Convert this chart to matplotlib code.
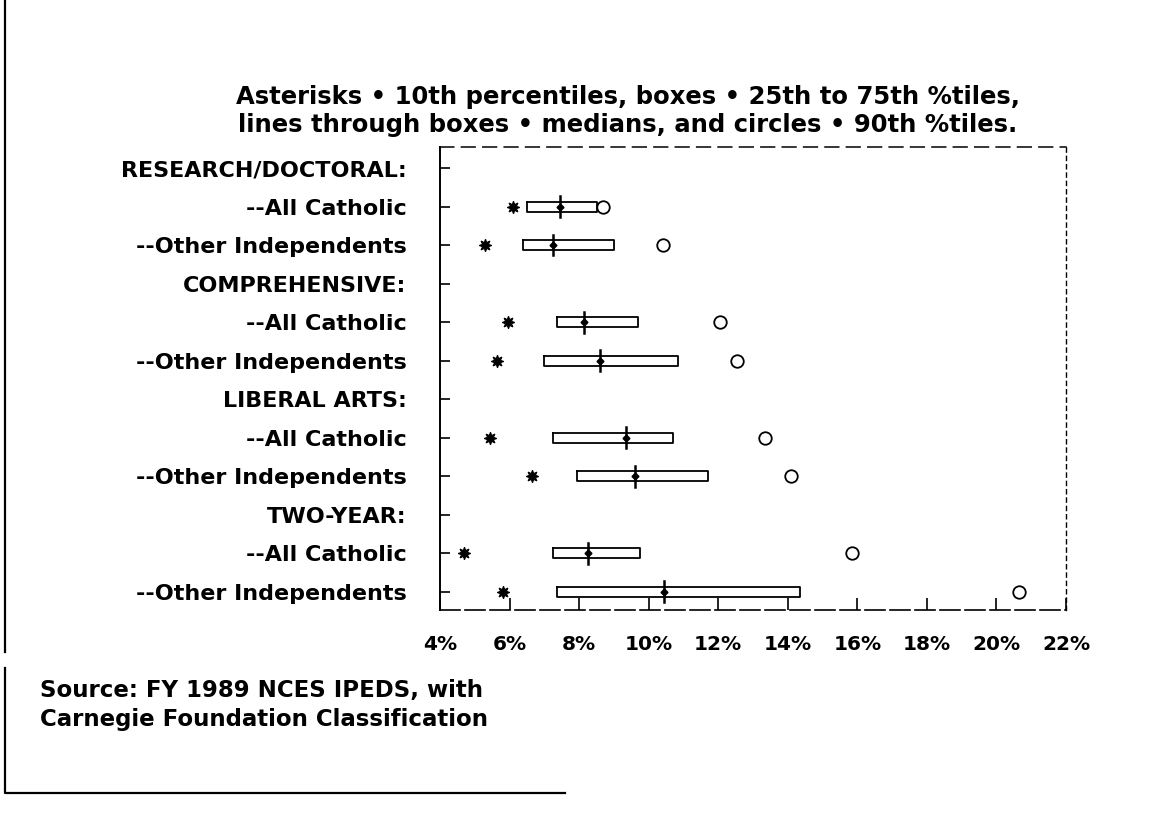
import numpy as np
import matplotlib.pyplot as plt
from matplotlib.lines import Line2D

# Row labels, top to bottom (headers have no data)
row_labels = [
    "RESEARCH/DOCTORAL:", "--All Catholic", "--Other Independents",
    "COMPREHENSIVE:", "--All Catholic", "--Other Independents",
    "LIBERAL ARTS:", "--All Catholic", "--Other Independents",
    "TWO-YEAR:", "--All Catholic", "--Other Independents",
]
# rows that carry a box
data_rows = [1, 2, 4, 5, 7, 8, 10, 11]

# percentiles in %
p10 = [6.1, 5.3, 5.95, 5.65, 5.45, 6.65, 4.7, 5.8]
p25 = [6.5, 6.4, 7.35, 7.0, 7.25, 7.95, 7.25, 7.35]
p50 = [7.45, 7.25, 8.15, 8.6, 9.35, 9.6, 8.25, 10.45]
p75 = [8.5, 9.0, 9.7, 10.85, 10.7, 11.7, 9.75, 14.35]
p90 = [8.7, 10.4, 12.05, 12.55, 13.35, 14.1, 15.85, 20.65]

x_ticks = [4, 6, 8, 10, 12, 14, 16, 18, 20, 22]

title = ("Asterisks \u2022 10th percentiles, boxes \u2022 25th to 75th %tiles,\n"
         "lines through boxes \u2022 medians, and circles \u2022 90th %tiles.")
source = "Source: FY 1989 NCES IPEDS, with\nCarnegie Foundation Classification"

W, H = 1155, 813
fig = plt.figure(figsize=(W / 100, H / 100), dpi=100)
ax = fig.add_axes([440 / W, 1 - 610 / H, (1066 - 440) / W, (610 - 147) / H])

box_h = 0.13
med_h = 0.27
for i, r in enumerate(data_rows):
    # box 25th-75th
    ax.plot([p25[i], p75[i], p75[i], p25[i], p25[i]],
            [r - box_h, r - box_h, r + box_h, r + box_h, r - box_h],
            color="black", lw=1.3)
    # median
    ax.plot([p50[i], p50[i]], [r - med_h, r + med_h], color="black", lw=1.8)
    ax.plot([p50[i]], [r], marker="D", ms=3.5, color="black")
    # 10th percentile
    ax.plot([p10[i]], [r], marker=(8, 1, 0), ms=9, color="black", mew=0.8)
    # 90th percentile
    ax.plot([p90[i]], [r], marker="o", ms=9, mfc="white", mec="black", mew=1.3)

ax.set_xlim(4, 22)
ax.set_ylim(11.47, -0.545)
ax.set_yticks(range(len(row_labels)))
ax.set_yticklabels(row_labels, fontsize=16, fontweight="bold", family="DejaVu Sans")
ax.set_xticks(x_ticks)
ax.set_xticklabels([f"{t}%" for t in x_ticks], fontsize=14.5, fontweight="bold",
                   family="DejaVu Sans")
ax.tick_params(axis="y", direction="in", length=7, width=1.2, pad=24)
ax.tick_params(axis="x", direction="in", length=9, width=1.2, pad=18)

ax.spines["left"].set_linewidth(1.4)
ax.spines["top"].set_linestyle((0, (9, 5)))
ax.spines["top"].set_linewidth(1.1)
ax.spines["bottom"].set_linestyle((0, (12, 3)))
ax.spines["bottom"].set_linewidth(1.2)
ax.spines["right"].set_linestyle((0, (3, 3)))
ax.spines["right"].set_linewidth(1.0)

fig.text(628 / W, 1 - 111 / H, title, ha="center", va="center", fontsize=17.5,
         fontweight="bold", family="DejaVu Sans", linespacing=1.25)
fig.text(40 / W, 1 - 705 / H, source, ha="left", va="center", fontsize=16.5,
         fontweight="bold", family="DejaVu Sans", linespacing=1.3)

# scanned page border
fig.add_artist(Line2D([5 / W, 5 / W], [1, 1 - 652 / H], transform=fig.transFigure,
                      color="black", lw=1.6))
fig.add_artist(Line2D([5 / W, 5 / W, 565 / W], [1 - 668 / H, 1 - 793 / H, 1 - 793 / H],
                      transform=fig.transFigure, color="black", lw=1.6))

fig.savefig("out.png", dpi=100)
